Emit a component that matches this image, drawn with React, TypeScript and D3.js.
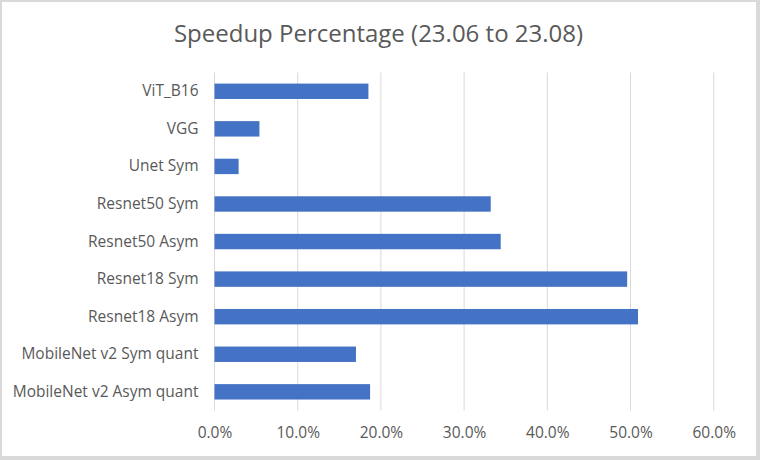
import React, { useEffect, useRef } from "react";
import * as d3 from "d3";

const categories = [
  "ViT_B16",
  "VGG",
  "Unet Sym",
  "Resnet50 Sym",
  "Resnet50 Asym",
  "Resnet18 Sym",
  "Resnet18 Asym",
  "MobileNet v2 Sym quant",
  "MobileNet v2 Asym quant",
];
const speedup = [0.185, 0.054, 0.029, 0.332, 0.344, 0.496, 0.509, 0.17, 0.187];
const xTicks = [0, 0.1, 0.2, 0.3, 0.4, 0.5, 0.6];
const title = "Speedup Percentage (23.06 to 23.08)";

const W = 760;
const H = 460;
const FONT = "'Open Sans', 'Noto Sans', sans-serif";
const TEXT = "#595959";

const App = () => {
  const svgRef = useRef<SVGSVGElement>(null);

  useEffect(() => {
    const svg = d3.select(svgRef.current);
    svg.selectAll("*").remove();

    // frame
    svg.append("rect").attr("width", W).attr("height", H).attr("fill", "#d9d9d9");
    svg
      .append("rect")
      .attr("x", 2)
      .attr("y", 2)
      .attr("width", 754)
      .attr("height", 454)
      .attr("fill", "#ffffff");

    const x = d3.scaleLinear().domain([0, 0.6]).range([214.5, 713.7]);
    const y = d3
      .scaleBand<string>()
      .domain(categories)
      .range([72.5, 410.6])
      .paddingInner(0.59)
      .paddingOuter(0.295);

    svg
      .append("text")
      .attr("x", 378.5)
      .attr("y", 42)
      .attr("text-anchor", "middle")
      .attr("font-family", FONT)
      .attr("font-size", 24)
      .attr("fill", TEXT)
      .text(title);

    // gridlines
    svg
      .append("g")
      .selectAll("line")
      .data(xTicks)
      .join("line")
      .attr("x1", (d) => x(d))
      .attr("x2", (d) => x(d))
      .attr("y1", 72.5)
      .attr("y2", 410.6)
      .attr("stroke", "#d9d9d9")
      .attr("stroke-width", 1);

    svg
      .append("g")
      .selectAll("rect")
      .data(speedup)
      .join("rect")
      .attr("x", x(0))
      .attr("y", (_, i) => y(categories[i]) as number)
      .attr("width", (d) => x(d) - x(0))
      .attr("height", y.bandwidth())
      .attr("fill", "#4472c4");

    const xAxis = d3
      .axisBottom(x)
      .tickValues(xTicks)
      .tickFormat((d) => d3.format(".1%")(d as number))
      .tickSize(0)
      .tickPadding(0);
    const gx = svg.append("g").call(xAxis);
    gx.select(".domain").remove();
    gx.selectAll("text")
      .attr("y", 438)
      .attr("dy", null)
      .attr("font-family", FONT)
      .attr("font-size", 15.5)
      .attr("fill", TEXT);

    const yAxis = d3.axisLeft(y).tickSize(0).tickPadding(16);
    const gy = svg.append("g").attr("transform", `translate(${x(0)}, 0)`).call(yAxis);
    gy.select(".domain").remove();
    gy.selectAll("text")
      .attr("font-family", FONT)
      .attr("font-size", 15.5)
      .attr("fill", TEXT);
  }, []);

  return (
    <svg
      ref={svgRef}
      width={W}
      height={H}
      style={{ position: "absolute", left: 0, top: 0, display: "block" }}
    ></svg>
  );
};

export default App;
